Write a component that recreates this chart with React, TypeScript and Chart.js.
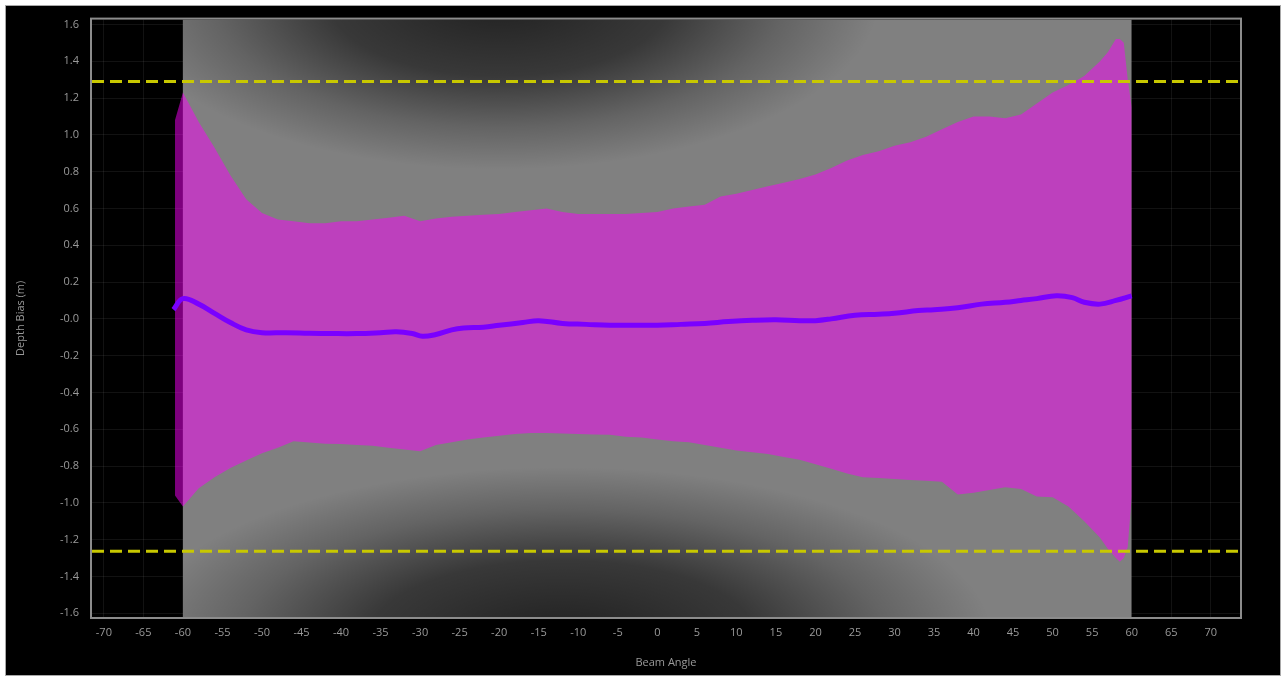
import React, { useEffect, useRef } from 'react';
import { Chart, registerables } from 'chart.js';

Chart.register(...registerables);

// ---- data ----
const bandAngles = [-61, -60, -58, -56, -54, -52, -50, -48, -46, -44, -42, -40, -38, -36, -34, -32, -30, -28, -26, -24, -22, -20, -18, -16, -14, -12, -10, -8, -6, -4, -2, 0, 2, 4, 6, 8, 10, 12, 14, 16, 18, 20, 22, 24, 26, 28, 30, 32, 34, 36, 38, 40, 42, 44, 46, 48, 50, 52, 54, 56, 57, 58, 58.5, 59, 59.5, 60];
const bandUpper = [1.08, 1.23, 1.07, 0.93, 0.78, 0.65, 0.575, 0.54, 0.53, 0.52, 0.52, 0.53, 0.53, 0.54, 0.55, 0.56, 0.53, 0.545, 0.555, 0.56, 0.565, 0.57, 0.58, 0.59, 0.6, 0.58, 0.57, 0.57, 0.57, 0.57, 0.575, 0.58, 0.6, 0.61, 0.62, 0.665, 0.68, 0.7, 0.72, 0.74, 0.76, 0.785, 0.82, 0.86, 0.89, 0.91, 0.94, 0.96, 0.99, 1.03, 1.07, 1.1, 1.1, 1.09, 1.11, 1.17, 1.23, 1.27, 1.32, 1.4, 1.45, 1.52, 1.52, 1.5, 1.3, 1.15];
const bandLower = [-0.96, -1.02, -0.92, -0.86, -0.81, -0.77, -0.73, -0.7, -0.665, -0.672, -0.678, -0.68, -0.685, -0.69, -0.7, -0.71, -0.72, -0.685, -0.67, -0.655, -0.645, -0.635, -0.625, -0.62, -0.62, -0.623, -0.625, -0.628, -0.63, -0.64, -0.645, -0.655, -0.665, -0.67, -0.685, -0.7, -0.715, -0.725, -0.735, -0.75, -0.765, -0.79, -0.815, -0.84, -0.86, -0.865, -0.87, -0.875, -0.88, -0.885, -0.955, -0.945, -0.93, -0.915, -0.925, -0.965, -0.97, -1.02, -1.1, -1.19, -1.25, -1.3, -1.32, -1.3, -1.24, -0.97];

const meanAngles = [-61.2, -60, -58, -56, -54, -52, -50, -47, -44, -41, -38, -35, -33, -31, -29.7, -28, -26, -24.5, -22, -20, -17, -15, -12, -9, -6, -3, 0, 3, 6, 9, 12, 15, 18, 20, 22, 25, 28, 30, 33, 35, 38, 41, 44, 46, 48, 50.5, 52.5, 54, 56, 58, 60];
const meanBias = [0.05, 0.11, 0.08, 0.03, -0.02, -0.06, -0.075, -0.075, -0.078, -0.08, -0.08, -0.075, -0.07, -0.08, -0.095, -0.085, -0.06, -0.05, -0.045, -0.035, -0.02, -0.01, -0.025, -0.03, -0.035, -0.035, -0.035, -0.03, -0.025, -0.015, -0.008, -0.005, -0.01, -0.01, 0.0, 0.02, 0.025, 0.03, 0.045, 0.05, 0.06, 0.08, 0.09, 0.1, 0.11, 0.125, 0.115, 0.09, 0.08, 0.1, 0.125];

const soundingRange = [-60, 60];
const limitUpper = 1.29;
const limitLower = -1.263;

const xTickValues = [-70, -65, -60, -55, -50, -45, -40, -35, -30, -25, -20, -15, -10, -5, 0, 5, 10, 15, 20, 25, 30, 35, 40, 45, 50, 55, 60, 65, 70];
const yTickValues = [-1.6, -1.4, -1.2, -1.0, -0.8, -0.6, -0.4, -0.2, 0, 0.2, 0.4, 0.6, 0.8, 1.0, 1.2, 1.4, 1.6];
const yTickLabels = ['-1.6', '-1.4', '-1.2', '-1.0', '-0.8', '-0.6', '-0.4', '-0.2', '-0.0', '0.2', '0.4', '0.6', '0.8', '1.0', '1.2', '1.4', '1.6'];

const X_MIN = -71.5;
const X_MAX = 73.7;
const Y_MIN = -1.62;
const Y_MAX = 1.626;

const FONT = "'Open Sans', 'Noto Sans', sans-serif";
const TICK_COLOR = '#9a9a9a';

const fieldPlugin = {
  id: 'soundingField',
  beforeDatasetsDraw(chart: any) {
    const { ctx, chartArea, scales } = chart;
    const x = scales.x;
    const x0 = x.getPixelForValue(soundingRange[0]);
    const x1 = x.getPixelForValue(soundingRange[1]);
    const top = chartArea.top;
    const bottom = chartArea.bottom;
    ctx.save();
    ctx.beginPath();
    ctx.rect(x0, top, x1 - x0, bottom - top);
    ctx.clip();
    ctx.fillStyle = '#808080';
    ctx.fillRect(x0, top, x1 - x0, bottom - top);

    const blob = (cxV: number, cyPx: number, rx: number, ry: number, a: number) => {
      const cx = x.getPixelForValue(cxV);
      ctx.save();
      ctx.translate(cx, cyPx);
      ctx.scale(rx / ry, 1);
      const g = ctx.createRadialGradient(0, 0, 0, 0, 0, ry);
      g.addColorStop(0, `rgba(0,0,0,${a})`);
      g.addColorStop(0.45, `rgba(0,0,0,${a * 0.75})`);
      g.addColorStop(0.75, `rgba(0,0,0,${a * 0.3})`);
      g.addColorStop(1, 'rgba(0,0,0,0)');
      ctx.fillStyle = g;
      ctx.beginPath();
      ctx.arc(0, 0, ry, 0, Math.PI * 2);
      ctx.fill();
      ctx.restore();
    };
    blob(-20, top - 20, 380, 170, 0.75);
    blob(-12, bottom + 20, 430, 170, 0.75);
    ctx.restore();
  },
};

const framePlugin = {
  id: 'plotFrame',
  afterDraw(chart: any) {
    const { ctx, chartArea } = chart;
    ctx.save();
    ctx.strokeStyle = '#8c8c8c';
    ctx.lineWidth = 2;
    ctx.strokeRect(chartArea.left - 1, chartArea.top - 1, chartArea.right - chartArea.left + 2, chartArea.bottom - chartArea.top + 2);
    ctx.restore();
  },
};

export default function App() {
  const canvasRef = useRef<HTMLCanvasElement | null>(null);

  useEffect(() => {
    const canvas = canvasRef.current;
    if (!canvas) return;
    const upper = bandAngles.map((a, i) => ({ x: a, y: bandUpper[i] }));
    const lower = bandAngles.map((a, i) => ({ x: a, y: bandLower[i] }));
    const mean = meanAngles.map((a, i) => ({ x: a, y: meanBias[i] }));
    const limitLine = (v: number) => [{ x: X_MIN, y: v }, { x: X_MAX, y: v }];

    const chart = new Chart(canvas, {
      type: 'line',
      data: {
        datasets: [
          {
            label: 'Mean',
            data: mean,
            borderColor: '#7a00ff',
            borderWidth: 5,
            pointRadius: 0,
            tension: 0.4,
            fill: false,
            order: 0,
          },
          {
            label: 'Upper limit',
            data: limitLine(limitUpper),
            borderColor: '#c8c800',
            borderWidth: 3,
            borderDash: [12, 6],
            pointRadius: 0,
            fill: false,
            order: 1,
          },
          {
            label: 'Lower limit',
            data: limitLine(limitLower),
            borderColor: '#c8c800',
            borderWidth: 3,
            borderDash: [12, 6],
            pointRadius: 0,
            fill: false,
            order: 1,
          },
          {
            label: 'Upper',
            data: upper,
            borderWidth: 0,
            borderColor: 'rgba(0,0,0,0)',
            backgroundColor: 'rgba(250,0,250,0.5)',
            pointRadius: 0,
            tension: 0,
            fill: '+1',
            order: 2,
          },
          {
            label: 'Lower',
            data: lower,
            borderWidth: 0,
            borderColor: 'rgba(0,0,0,0)',
            pointRadius: 0,
            tension: 0,
            fill: false,
            order: 3,
          },
        ],
      },
      options: {
        responsive: false,
        animation: false,
        layout: { padding: { left: 0, right: 44, top: 18, bottom: 0 } },
        plugins: {
          legend: { display: false },
          tooltip: { enabled: false },
          title: { display: false },
        },
        scales: {
          x: {
            type: 'linear',
            min: X_MIN,
            max: X_MAX,
            afterBuildTicks: (s: any) => {
              s.ticks = xTickValues.map((v) => ({ value: v }));
            },
            afterFit: (s: any) => {
              s.height = 60;
            },
            ticks: {
              color: TICK_COLOR,
              font: { family: FONT, size: 11 },
              padding: 9,
              maxRotation: 0,
              autoSkip: false,
              callback: (v: any) => String(v),
            },
            grid: { color: 'rgba(255,255,255,0.07)', drawTicks: false },
            border: { display: false },
            title: {
              display: true,
              text: 'Beam Angle',
              color: TICK_COLOR,
              font: { family: FONT, size: 11 },
              padding: { top: 0, bottom: 8 },
            },
          },
          y: {
            type: 'linear',
            min: Y_MIN,
            max: Y_MAX,
            afterBuildTicks: (s: any) => {
              s.ticks = yTickValues.map((v) => ({ value: v }));
            },
            afterFit: (s: any) => {
              s.width = 92;
            },
            ticks: {
              color: TICK_COLOR,
              font: { family: FONT, size: 11 },
              padding: 13,
              autoSkip: false,
              callback: (_v: any, i: number) => yTickLabels[i],
            },
            grid: { color: 'rgba(255,255,255,0.07)', drawTicks: false },
            border: { display: false },
            title: {
              display: true,
              text: 'Depth Bias (m)',
              color: TICK_COLOR,
              font: { family: FONT, size: 11 },
              padding: { top: 14, bottom: 0 },
            },
          },
        },
      },
      plugins: [fieldPlugin, framePlugin],
    });
    return () => chart.destroy();
  }, []);

  return (
    <div style={{ position: 'fixed', left: 0, top: 0, width: 1284, height: 677, background: '#ffffff', overflow: 'hidden' }}>
      <div
        style={{
          position: 'absolute',
          left: 5,
          top: 5,
          width: 1276,
          height: 671,
          background: '#000000',
          border: '1px solid #a8a8a8',
          boxSizing: 'border-box',
        }}
      />
      <canvas ref={canvasRef} width={1284} height={677} style={{ position: 'absolute', left: 0, top: 0, width: 1284, height: 677 }} />
    </div>
  );
}
